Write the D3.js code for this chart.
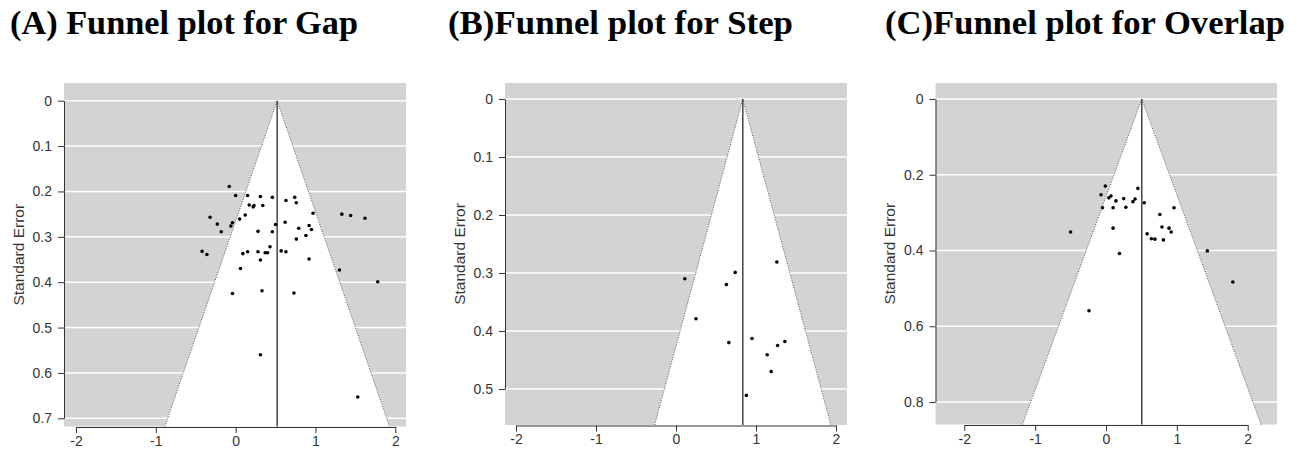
<!DOCTYPE html>
<html><head><meta charset="utf-8">
<script src="https://cdn.jsdelivr.net/npm/d3@7"></script>
<style>body{margin:0;background:#fff} svg{display:block}</style>
</head><body>
<svg id="chart" width="1301" height="452"></svg>
<script>
// ---------- data ----------
const titles = ["(A) Funnel plot for Gap", "(B)Funnel plot for Step", "(C)Funnel plot for Overlap"];
const yAxisTitle = "Standard Error";

const xTickValues = [-2, -1, 0, 1, 2];
const xTickLabels = ["-2", "-1", "0", "1", "2"];

const gapYTicks = [0, 0.1, 0.2, 0.3, 0.4, 0.5, 0.6, 0.7];
const gapYLabels = ["0", "0.1", "0.2", "0.3", "0.4", "0.5", "0.6", "0.7"];
const stepYTicks = [0, 0.1, 0.2, 0.3, 0.4, 0.5];
const stepYLabels = ["0", "0.1", "0.2", "0.3", "0.4", "0.5"];
const overlapYTicks = [0, 0.2, 0.4, 0.6, 0.8];
const overlapYLabels = ["0", "0.2", "0.4", "0.6", "0.8"];

const gapEstimate = 0.52;
const stepEstimate = 0.835;
const overlapEstimate = 0.505;

const gapX = [-0.08, 0.00, 0.15, 0.31, 0.46, 0.74, 0.63, 0.76, 0.17, 0.23, 0.22, 0.34, 0.97, 1.33, 1.44, 1.62,
  -0.32, 0.12, 0.05, -0.23, -0.04, -0.06, 0.50, 0.62, 0.92, 0.79, 0.95, -0.18, 0.28, 0.46, 0.88, 0.76, 0.43,
  -0.42, -0.36, 0.09, 0.15, 0.28, 0.37, 0.40, 0.57, 0.63, 0.31, 0.92, 0.06, 1.30, 1.78, -0.04, 0.33, 0.73, 0.31, 1.53];
const gapSE = [0.189, 0.209, 0.209, 0.211, 0.213, 0.213, 0.220, 0.225, 0.230, 0.231, 0.234, 0.231, 0.248, 0.250, 0.253, 0.259,
  0.257, 0.252, 0.261, 0.272, 0.269, 0.276, 0.273, 0.268, 0.275, 0.281, 0.284, 0.289, 0.288, 0.289, 0.297, 0.305, 0.322,
  0.332, 0.339, 0.337, 0.333, 0.333, 0.335, 0.335, 0.331, 0.333, 0.351, 0.349, 0.370, 0.373, 0.399, 0.425, 0.419, 0.424, 0.560, 0.653];

const stepX = [1.26, 0.74, 0.11, 0.63, 0.25, 0.95, 0.66, 1.36, 1.27, 1.14, 1.19, 0.88];
const stepSE = [0.281, 0.299, 0.310, 0.320, 0.379, 0.413, 0.420, 0.418, 0.425, 0.441, 0.470, 0.511];

const overlapX = [-0.01, 0.45, -0.07, 0.07, 0.04, 0.14, 0.25, 0.41, 0.38, 0.54, -0.05, 0.10, 0.28, 0.96,
  0.76, 0.10, 0.79, 0.89, 0.92, -0.50, 0.58, 0.64, 0.69, 0.81, 0.19, 1.43, 1.79, -0.24];
const overlapSE = [0.230, 0.236, 0.253, 0.256, 0.261, 0.269, 0.263, 0.264, 0.271, 0.274, 0.287, 0.287, 0.286, 0.287,
  0.305, 0.341, 0.338, 0.341, 0.351, 0.351, 0.356, 0.369, 0.370, 0.372, 0.408, 0.401, 0.483, 0.559];

// ---------- layout ----------
const panels = [
  {title: titles[0], est: gapEstimate, xs: gapX, ses: gapSE, yTicks: gapYTicks, yLabels: gapYLabels,
   xRange: [76, 395.3], yRange: [100.7, 418.3], box: {l: 64, r: 406, t: 83, b: 426.5},
   titleX: 10, titleW: 348, axisTitleX: 18},
  {title: titles[1], est: stepEstimate, xs: stepX, ses: stepSE, yTicks: stepYTicks, yLabels: stepYLabels,
   xRange: [516, 836], yRange: [99, 389], box: {l: 505, r: 847, t: 83, b: 425},
   titleX: 448, titleW: 345, axisTitleX: 459},
  {title: titles[2], est: overlapEstimate, xs: overlapX, ses: overlapSE, yTicks: overlapYTicks, yLabels: overlapYLabels,
   xRange: [964.3, 1247.7], yRange: [99, 402], box: {l: 935.5, r: 1277, t: 83, b: 424.5},
   titleX: 885, titleW: 400, axisTitleX: 889}
];

const svg = d3.select("#chart");
const tickFont = "'Liberation Sans', Arial, sans-serif";

panels.forEach(p => {
  const g = svg.append("g");
  const x = d3.scaleLinear().domain([xTickValues[0], xTickValues[xTickValues.length - 1]]).range(p.xRange);
  const yMax = p.yTicks[p.yTicks.length - 1];
  const y = d3.scaleLinear().domain([0, yMax]).range(p.yRange);
  const seBottom = y.invert(p.box.b);

  g.append("rect").attr("x", p.box.l).attr("y", p.box.t)
    .attr("width", p.box.r - p.box.l).attr("height", p.box.b - p.box.t)
    .attr("fill", "#d3d3d3");

  g.selectAll("line.grid").data(p.yTicks).join("line")
    .attr("class", "grid")
    .attr("x1", p.box.l).attr("x2", p.box.r)
    .attr("y1", d => y(d)).attr("y2", d => y(d))
    .attr("stroke", "#fff").attr("stroke-width", 1.5);

  const left = p.est - 1.96 * seBottom, right = p.est + 1.96 * seBottom;
  const tri = [[left, seBottom], [p.est, 0], [right, seBottom]];
  const lineGen = d3.line().x(d => x(d[0])).y(d => y(d[1]));
  g.append("path").attr("d", lineGen(tri) + "Z").attr("fill", "#fff");

  g.append("path").attr("d", lineGen(tri))
    .attr("fill", "none").attr("stroke", "#555").attr("stroke-width", 1)
    .attr("stroke-dasharray", "1,1.5");

  g.append("line")
    .attr("x1", x(p.est)).attr("x2", x(p.est))
    .attr("y1", y(0)).attr("y2", y(seBottom))
    .attr("stroke", "#444").attr("stroke-width", 1.5);

  g.selectAll("circle").data(p.xs.map((v, i) => [v, p.ses[i]])).join("circle")
    .attr("cx", d => x(d[0])).attr("cy", d => y(d[1])).attr("r", 1.8)
    .attr("fill", "#000");

  const ya = g.append("g").attr("transform", `translate(${p.box.l},0)`)
    .call(d3.axisLeft(y).tickValues(p.yTicks).tickFormat((d, i) => p.yLabels[i])
      .tickSize(6).tickSizeOuter(0).tickPadding(6));
  const xa = g.append("g").attr("transform", `translate(0,${p.box.b + 0.5})`)
    .call(d3.axisBottom(x).tickValues(xTickValues).tickFormat((d, i) => xTickLabels[i])
      .tickSize(6).tickSizeOuter(0).tickPadding(3));
  [ya, xa].forEach(a => {
    a.attr("font-size", 14).attr("font-family", tickFont);
    a.select(".domain").attr("stroke", "#333");
    a.selectAll(".tick line").attr("stroke", "#333");
    a.selectAll(".tick text").attr("fill", "#333")
      .attr("font-size", 14).style("font-size", "14px").style("font-family", tickFont);
  });

  g.append("text")
    .attr("transform", `translate(${p.axisTitleX},${(p.box.t + p.box.b) / 2}) rotate(-90)`)
    .attr("text-anchor", "middle").attr("dominant-baseline", "central")
    .attr("fill", "#333")
    .style("font-family", tickFont).style("font-size", "15.5px")
    .text(yAxisTitle);

  g.append("text")
    .attr("x", p.titleX).attr("y", 34)
    .attr("textLength", p.titleW).attr("lengthAdjust", "spacingAndGlyphs")
    .style("font-family", "'Liberation Serif', 'Times New Roman', serif")
    .style("font-weight", "bold").style("font-size", "33px")
    .attr("fill", "#000")
    .text(p.title);
});
</script>
</body></html>
